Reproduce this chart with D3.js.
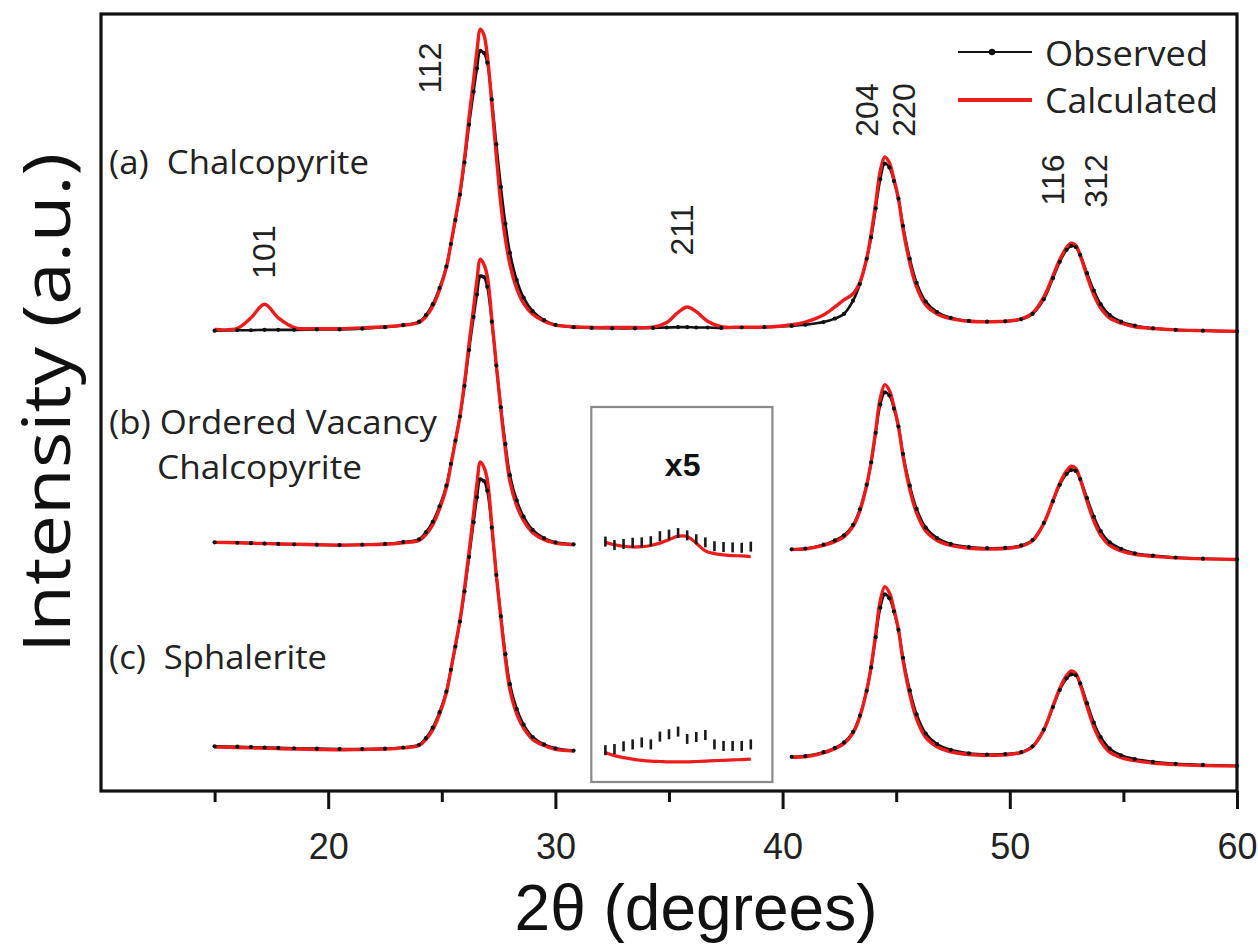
<!DOCTYPE html>
<html><head><meta charset="utf-8">
<script src="https://cdn.jsdelivr.net/npm/d3@7"></script>
<style>body{margin:0;background:#fff} svg{display:block}</style>
</head><body>
<svg id="chart" width="1258" height="946"></svg>
<script>
// ---------- DATA (2θ in degrees, intensity in arbitrary units) ----------
const theta = [15,16,16.6,17.2,17.8,18.5,19.5,20.5,21.5,22.5,
  23.3,24.0,24.3,24.6,24.9,25.2,25.4,25.6,25.8,26.0,
  26.2,26.4,26.55,26.7,26.85,27.0,27.2,27.4,27.6,27.8,
  28.0,28.3,28.6,29.0,29.5,30.0,30.8,31.6,32.5,33.5,
  34.3,34.9,35.4,35.8,36.2,36.7,37.3,38.2,39.2,40.4,
  41.0,41.8,42.3,42.7,43.1,43.4,43.7,43.9,44.1,44.3,
  44.5,44.7,44.9,45.1,45.3,45.6,45.9,46.3,46.8,47.4,
  48.2,49.0,49.8,50.5,51.0,51.5,51.9,52.2,52.5,52.7,
  52.9,53.1,53.4,53.7,54.0,54.4,54.9,55.5,56.3,57.3,
  58.5,60];
const N = null;
// (a) Chalcopyrite
const calcA = [13.8,14.1,16.8,20.3,16.8,14.3,14.0,14.0,14.2,14.5,
  14.9,15.6,17.1,19.7,24.0,29.7,35.8,42.3,49.1,57.9,
  68.4,78.1,85.6,91.1,89.7,84.5,72.0,58.5,46.0,37.0,
  30.5,24.3,20.5,17.7,15.9,14.9,14.5,14.3,14.3,14.3,
  14.4,15.6,18.2,19.6,18.4,15.9,14.5,14.4,14.4,15.0,
  15.7,17.5,19.6,21.4,23.0,25.9,32.0,38.5,46.4,54.6,
  58.2,56.7,52.5,47.4,39.7,30.9,24.7,20.1,17.8,16.6,
  15.9,15.8,15.9,16.5,18.0,22.2,27.6,31.8,34.9,36.0,
  35.5,32.8,27.5,22.7,19.3,16.7,15.4,14.5,14.05,13.7,
  13.5,13.3];
const obsA = [13.5,13.6,13.6,13.7,13.7,13.7,13.8,13.8,14.0,14.4,
  14.9,15.8,17.5,20.3,24.5,30.0,35.8,42.0,48.5,56.8,
  66.5,75.0,81.0,85.5,85.0,82.5,73.0,61.5,50.5,41.0,
  33.5,26.5,22.0,18.5,16.2,15.0,14.4,14.2,14.1,14.1,
  14.2,14.3,14.4,14.4,14.3,14.3,14.2,14.3,14.4,14.7,
  15.0,15.7,16.6,17.8,21.2,25.5,32.0,37.5,45.0,52.5,
  56.5,55.5,52.0,47.5,40.5,32.0,25.8,21.0,18.3,16.8,
  16.0,15.8,15.9,16.4,17.8,21.6,27.0,31.2,34.3,35.3,
  35.0,33.0,28.3,23.8,20.3,17.5,15.8,14.8,14.1,13.7,
  13.5,13.3];
// (b) Ordered Vacancy Chalcopyrite
const calcB = [12.0,11.9,11.8,11.7,11.6,11.5,11.4,11.3,11.4,11.5,
  11.9,12.5,14.0,16.5,20.6,26.0,31.9,38.1,44.6,53.1,
  63.1,72.4,79.6,84.9,83.6,80.6,69.6,57.6,46.1,35.9,
  27.6,21.4,17.6,14.5,12.7,11.8,11.4,N,N,N,
  N,N,N,N,N,N,N,N,N,10.2,
  10.3,11.2,12.2,13.4,16.1,20.1,26.7,32.8,40.9,49.1,
  52.6,51.1,47.0,41.8,34.2,25.6,19.5,14.9,12.5,11.2,
  10.5,10.3,10.4,11.0,12.4,16.9,22.8,27.2,30.4,31.6,
  31.1,28.2,22.6,17.5,13.9,11.2,9.8,8.9,8.4,8.0,
  7.75,7.6];
const obsB = [12.0,11.9,11.8,11.7,11.6,11.5,11.4,11.3,11.4,11.6,
  12.1,12.8,14.6,17.3,21.3,26.6,32.2,38.2,44.4,52.3,
  61.5,70.0,75.8,80.5,80.3,77.8,68.8,57.5,46.8,37.3,
  29.3,22.8,18.6,15.2,13.1,12.0,11.5,N,N,N,
  N,N,N,N,N,N,N,N,N,10.2,
  10.4,11.4,12.5,13.8,16.5,20.5,26.8,32.6,40.2,47.5,
  50.6,49.8,46.4,41.8,34.8,26.6,20.6,15.8,13.1,11.6,
  10.8,10.5,10.6,11.2,12.6,17.0,22.6,26.8,29.6,30.6,
  30.4,28.3,23.4,18.6,14.9,12.0,10.3,9.2,8.6,8.1,
  7.8,7.6];
// (c) Sphalerite
const calcC = [11.3,11.2,11.1,11.0,10.9,10.8,10.7,10.6,10.7,10.8,
  11.1,11.7,13.2,15.7,19.8,25.3,31.2,37.5,44.0,52.2,
  61.5,71.5,79.2,84.7,83.4,80.2,68.5,55.5,44.5,34.0,
  26.0,19.8,16.2,13.3,11.7,10.7,10.3,N,N,N,
  N,N,N,N,N,N,N,N,N,8.7,
  8.8,9.8,10.9,12.2,14.9,19.1,25.9,32.2,40.6,49.0,
  52.6,51.0,46.8,41.5,33.6,24.8,18.5,13.8,11.4,10.1,
  9.4,9.2,9.3,9.9,11.4,15.8,21.9,26.4,29.7,30.9,
  30.3,27.4,21.7,16.5,12.8,10.0,8.6,7.8,7.2,6.8,
  6.55,6.4];
const obsC = [11.5,11.4,11.3,11.2,11.1,11.0,10.9,10.8,10.8,10.9,
  11.2,11.9,13.6,16.3,20.3,25.6,31.2,37.2,43.6,51.4,
  60.2,69.2,75.6,80.2,79.8,77.3,67.8,55.6,45.0,35.2,
  27.5,21.1,17.1,13.9,12.0,11.0,10.4,N,N,N,
  N,N,N,N,N,N,N,N,N,8.8,
  9.0,10.0,11.1,12.5,15.2,19.4,25.8,31.8,39.6,47.2,
  50.6,49.6,46.2,41.5,34.3,25.9,19.7,14.8,12.1,10.6,
  9.7,9.4,9.5,10.0,11.5,15.8,21.6,26.0,29.0,30.0,
  29.8,27.7,22.6,17.6,13.9,10.9,9.2,8.2,7.5,7.0,
  6.7,6.5];
// x5 inset (31-39 degrees region, magnified)
const insetTheta = [32.2,32.6,33.0,33.4,33.8,34.2,34.6,35.0,35.4,35.8,36.2,36.6,37.0,37.4,37.8,38.2,38.6];
const insetCalcB = [12.0,11.4,11.0,10.8,10.9,11.2,11.8,12.7,13.6,13.5,11.8,9.8,9.1,8.8,8.6,8.5,8.3];
const insetObsB  = [12.2,11.3,11.6,11.9,12.0,12.3,13.6,14.0,14.4,13.8,12.8,12.0,11.0,10.8,10.7,10.6,10.9];
const insetCalcC = [9.9,9.1,8.6,8.2,7.9,7.7,7.6,7.5,7.5,7.5,7.6,7.7,7.8,7.9,8.0,8.1,8.2];
const insetObsC  = [10.5,10.8,11.5,12.0,12.5,12.0,14.0,14.6,15.3,13.4,13.9,14.4,12.0,11.6,11.6,11.6,12.0];
// vertical offsets of the stacked patterns
const patternNames = ["(a)  Chalcopyrite", "(b) Ordered Vacancy", "Chalcopyrite", "(c)  Sphalerite"];
const patternOffsets = [105, 52, 0];
// peak (hkl) labels and where they sit
const hklLabels = ["101","112","211","204","220","116","312"];
const hklTheta  = [17.13, 24.44, 35.53, 43.67, 45.30, 51.87, 53.76];
const xMajorTicks = [20,30,40,50,60];
const xMinorTicks = [15,25,35,45,55];
const legendLabels = ["Observed","Calculated"];

// ---------- DRAWING ----------
const RED = "#ee1b1b";
const TXT = "#222";
const svg = d3.select("#chart");
const x = d3.scaleLinear().domain([10,60]).range([101,1237]);
const y = d3.scaleLinear().domain([0,200]).range([791,14]);

const series = [
  {calc: calcA, obs: obsA, off: patternOffsets[0]},
  {calc: calcB, obs: obsB, off: patternOffsets[1]},
  {calc: calcC, obs: obsC, off: patternOffsets[2]}
];

const lineGen = off => d3.line()
  .defined(d => d[1] != null)
  .x(d => x(d[0]))
  .y(d => y(d[1] + off))
  .curve(d3.curveCatmullRom.alpha(0.5));

const gData = svg.append("g");
series.forEach(s => {
  const obsPts = theta.map((t,i) => [t, s.obs[i]]);
  const calcPts = theta.map((t,i) => [t, s.calc[i]]);
  gData.append("path").datum(obsPts).attr("d", lineGen(s.off))
    .attr("fill","none").attr("stroke","#111").attr("stroke-width",2.6);
  gData.append("path").datum(calcPts).attr("d", lineGen(s.off))
    .attr("fill","none").attr("stroke",RED).attr("stroke-width",3.4)
    .attr("stroke-linejoin","round");
  gData.selectAll(null).data(obsPts.filter(d => d[1] != null)).enter()
    .append("circle").attr("cx", d => x(d[0])).attr("cy", d => y(d[1] + s.off))
    .attr("r", 2.1).attr("fill","#111");
});

// inset box (x5)
const gIn = svg.append("g");
gIn.append("rect").attr("x", x(31.58)).attr("y", 407)
  .attr("width", x(39.55) - x(31.58)).attr("height", 375)
  .attr("fill","#fff").attr("stroke","#8a8a8a").attr("stroke-width",2.2);
gIn.append("text").attr("x", x(35.6)).attr("y", 476).attr("text-anchor","middle")
  .attr("font-family","Liberation Sans, Arial, sans-serif").attr("font-weight","bold")
  .attr("font-size",32).attr("fill","#111").text("x5");
[[insetCalcB, insetObsB, patternOffsets[1]], [insetCalcC, insetObsC, patternOffsets[2]]].forEach(([c,o,off]) => {
  const cp = insetTheta.map((t,i) => [t, c[i]]);
  const op = insetTheta.map((t,i) => [t, o[i]]);
  gIn.append("path").datum(cp).attr("d", lineGen(off))
    .attr("fill","none").attr("stroke",RED).attr("stroke-width",3.2);
  gIn.selectAll(null).data(op).enter().append("rect")
    .attr("x", d => x(d[0]) - 1.3).attr("y", d => y(d[1] + off) - 5)
    .attr("width", 2.6).attr("height", 10).attr("fill","#1a1a1a");
});

// frame
svg.append("rect").attr("x",101).attr("y",14).attr("width",1136).attr("height",777)
  .attr("fill","none").attr("stroke","#111").attr("stroke-width",3.2);

// x axis ticks
const axMajor = svg.append("g").attr("transform","translate(0,791)")
  .call(d3.axisBottom(x).tickValues(xMajorTicks).tickSize(18).tickSizeOuter(0).tickPadding(24).tickFormat(d3.format("d")));
const axMinor = svg.append("g").attr("transform","translate(0,791)")
  .call(d3.axisBottom(x).tickValues(xMinorTicks).tickSize(11).tickSizeOuter(0).tickFormat(""));
[axMajor, axMinor].forEach(g => {
  g.select(".domain").remove();
  g.selectAll("line").attr("stroke","#111").attr("stroke-width",3);
});
axMajor.selectAll("text").attr("font-family","Liberation Sans, Arial, sans-serif")
  .attr("font-size",36).attr("fill",TXT);

// axis titles
svg.append("text").attr("x", 696).attr("y", 930).attr("text-anchor","middle")
  .attr("font-family","Liberation Sans, Arial, sans-serif").attr("font-size",64).attr("fill","#111")
  .text("2θ (degrees)");
svg.append("text").attr("transform","translate(70,403) rotate(-90)").attr("text-anchor","middle")
  .attr("font-family","Open Sans, sans-serif").attr("font-size",66).attr("fill","#111")
  .attr("textLength",500).attr("lengthAdjust","spacingAndGlyphs")
  .text("Intensity (a.u.)");

// pattern labels
const lab = (t, px, py, len) => svg.append("text").attr("x",px).attr("y",py)
  .attr("font-family","Open Sans, sans-serif").attr("font-size",33).attr("fill",TXT)
  .attr("xml:space","preserve").style("white-space","pre")
  .attr("textLength",len).attr("lengthAdjust","spacingAndGlyphs").text(t);
lab(patternNames[0], 109, 174, 260);
lab(patternNames[1], 109, 434, 328);
lab(patternNames[2], 157, 479, 205);
lab(patternNames[3], 109, 669, 218);

// hkl labels (rotated)
const hklY = [252, 68, 230, 110, 110, 180, 181];
hklLabels.forEach((t,i) => {
  svg.append("text").attr("transform", `translate(${x(hklTheta[i])},${hklY[i]}) rotate(-90)`)
    .attr("text-anchor","middle").attr("dy","0.36em")
    .attr("font-family","Liberation Sans, Arial, sans-serif").attr("font-size",32).attr("fill",TXT)
    .text(t);
});

// legend
const lg = svg.append("g");
lg.append("line").attr("x1",958).attr("x2",1032).attr("y1",52).attr("y2",52)
  .attr("stroke","#111").attr("stroke-width",2);
lg.append("circle").attr("cx",992).attr("cy",52).attr("r",3.2).attr("fill","#111");
lg.append("line").attr("x1",958).attr("x2",1032).attr("y1",100).attr("y2",100)
  .attr("stroke",RED).attr("stroke-width",4);
lg.selectAll(null).data(legendLabels).enter().append("text")
  .attr("x",1045).attr("y",(d,i) => 66 + i*47)
  .attr("font-family","Open Sans, sans-serif").attr("font-size",35).attr("fill",TXT)
  .attr("textLength",(d,i) => [163,173][i]).attr("lengthAdjust","spacingAndGlyphs")
  .text(d => d);
</script>
</body></html>
